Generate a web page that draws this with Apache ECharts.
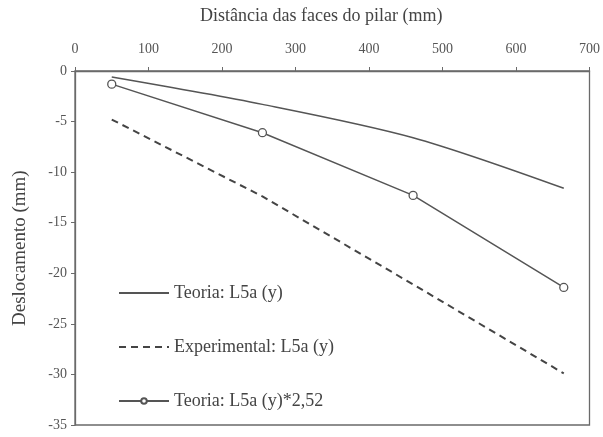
<!DOCTYPE html>
<html>
<head>
<meta charset="utf-8">
<script src="https://cdn.jsdelivr.net/npm/echarts@6/dist/echarts.min.js"></script>
<style>
  html, body { margin: 0; padding: 0; background: #fff; }
  #chart { width: 603px; height: 437px; }
</style>
</head>
<body>
<div id="chart"></div>
<script>
// Distance from the pillar faces (mm)
const distances = [50, 255, 460, 665];
// Vertical displacement (mm)
const teoria = [-0.6, -3.3, -6.6, -11.6];
const experimental = [-4.8, -12.4, -21.1, -29.9];
const teoriaScaled = [-1.3, -6.1, -12.3, -21.4];

const xTicks = [0, 700, 100];
const yTicks = [-35, 0, 5];

const seriesNames = ['Teoria: L5a (y)', 'Experimental: L5a (y)', 'Teoria: L5a (y)*2,52'];

const pair = (xs, ys) => xs.map((x, i) => [x, ys[i]]);
const serif = '"Liberation Serif", "DejaVu Serif", serif';
const ink = '#555';
const hidden = { color: 'transparent', borderColor: 'transparent', borderWidth: 0, opacity: 0 };

const chart = echarts.init(document.getElementById('chart'), null, { renderer: 'canvas' });
chart.setOption({
  animation: false,
  backgroundColor: '#fff',
  textStyle: { fontFamily: serif },
  grid: { left: 75, right: 13, top: 71, bottom: 12, show: true, borderColor: '#6a6a6a', borderWidth: 1.3 },
  graphic: [
    {
      type: 'text', left: 200, top: 7,
      style: { text: 'Distância das faces do pilar (mm)', font: '18px ' + serif, fill: '#444' }
    },
    {
      type: 'text', rotation: Math.PI / 2, x: 11, y: 326,
      style: { text: 'Deslocamento (mm)', font: '19px ' + serif, fill: '#444' }
    }
  ],
  xAxis: {
    type: 'value', position: 'top',
    min: xTicks[0], max: xTicks[1], interval: xTicks[2],
    axisLine: { show: true, onZero: false, lineStyle: { color: '#6a6a6a', width: 1.3 } },
    axisTick: { show: true, inside: false, length: 4, lineStyle: { color: '#6a6a6a' } },
    axisLabel: { color: '#555', fontSize: 14, margin: 15, fontFamily: serif },
    splitLine: { show: false }
  },
  yAxis: {
    type: 'value',
    min: yTicks[0], max: yTicks[1], interval: yTicks[2],
    axisLine: { show: true, onZero: false, lineStyle: { color: '#6a6a6a', width: 1.3 } },
    axisTick: { show: true, inside: false, length: 4, lineStyle: { color: '#6a6a6a' } },
    axisLabel: { color: '#555', fontSize: 14, margin: 8, fontFamily: serif },
    splitLine: { show: false }
  },
  legend: {
    orient: 'vertical', left: 118, top: 284, padding: 0,
    itemWidth: 50, itemHeight: 7, itemGap: 36,
    textStyle: { color: '#444', fontSize: 18, fontFamily: serif },
    data: [
      { name: seriesNames[0], itemStyle: hidden },
      { name: seriesNames[1], itemStyle: hidden },
      { name: seriesNames[2] }
    ]
  },
  series: [
    {
      name: seriesNames[0], type: 'line', data: pair(distances, teoria),
      symbol: 'none', smooth: 0.3,
      lineStyle: { color: ink, width: 1.5 }, itemStyle: { color: ink }
    },
    {
      name: seriesNames[1], type: 'line', data: pair(distances, experimental),
      symbol: 'none',
      lineStyle: { color: '#444', width: 2, type: [7, 5] }, itemStyle: { color: '#444' }
    },
    {
      name: seriesNames[2], type: 'line', data: pair(distances, teoriaScaled),
      symbol: 'circle', symbolSize: 8, showSymbol: true,
      lineStyle: { color: ink, width: 1.5 },
      itemStyle: { color: '#fff', borderColor: ink, borderWidth: 1.3 }
    }
  ]
});
</script>
</body>
</html>
